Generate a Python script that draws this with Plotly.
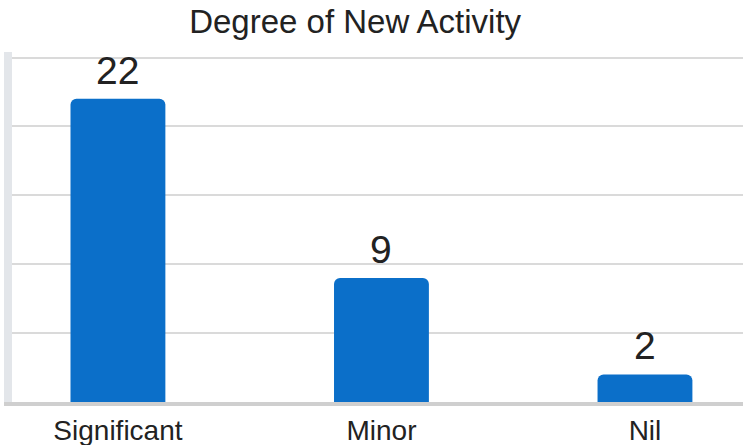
import plotly.graph_objects as go

categories = ["Significant", "Minor", "Nil"]
values = [22, 9, 2]
title_text = "Degree of New Activity"
grid_vals = [0, 5, 10, 15, 20, 25]

bar_color = "#0b6fc9"
font_family = "Liberation Sans, Arial, sans-serif"

fig = go.Figure()
fig.add_trace(go.Bar(
    x=categories,
    y=values,
    width=0.36,
    marker=dict(color=bar_color, line=dict(width=0), cornerradius=6),
    hoverinfo="skip",
))

for c, v in zip(categories, values):
    fig.add_annotation(
        x=c, y=v, text=str(v), showarrow=False,
        yanchor="bottom", yshift=5,
        font=dict(size=39, color="#222222", family=font_family),
    )

fig.update_layout(
    width=743, height=445,
    margin=dict(l=12, r=0, t=52, b=43),
    paper_bgcolor="white",
    plot_bgcolor="white",
    showlegend=False,
    title=dict(
        text=title_text,
        x=0.478, xanchor="center",
        y=0.951, yanchor="middle",
        font=dict(size=33, color="#222222", family=font_family),
    ),
    xaxis=dict(
        range=[-0.402, 2.372],
        showgrid=False,
        showline=True, linecolor="#cfcfcf", linewidth=4,
        ticks="",
        tickfont=dict(size=28, color="#222222", family=font_family),
        fixedrange=True,
    ),
    yaxis=dict(
        range=[0, 25.4],
        tickvals=grid_vals,
        showticklabels=False,
        showgrid=True, gridcolor="#dadada", gridwidth=2,
        zeroline=False,
        showline=True, linecolor="#e3e6ea", linewidth=8,
        ticks="",
        fixedrange=True,
    ),
)

fig.write_html(
    "out.html",
    config={"displayModeBar": False},
    post_script="document.body.style.margin='0';document.body.style.padding='0';",
)
